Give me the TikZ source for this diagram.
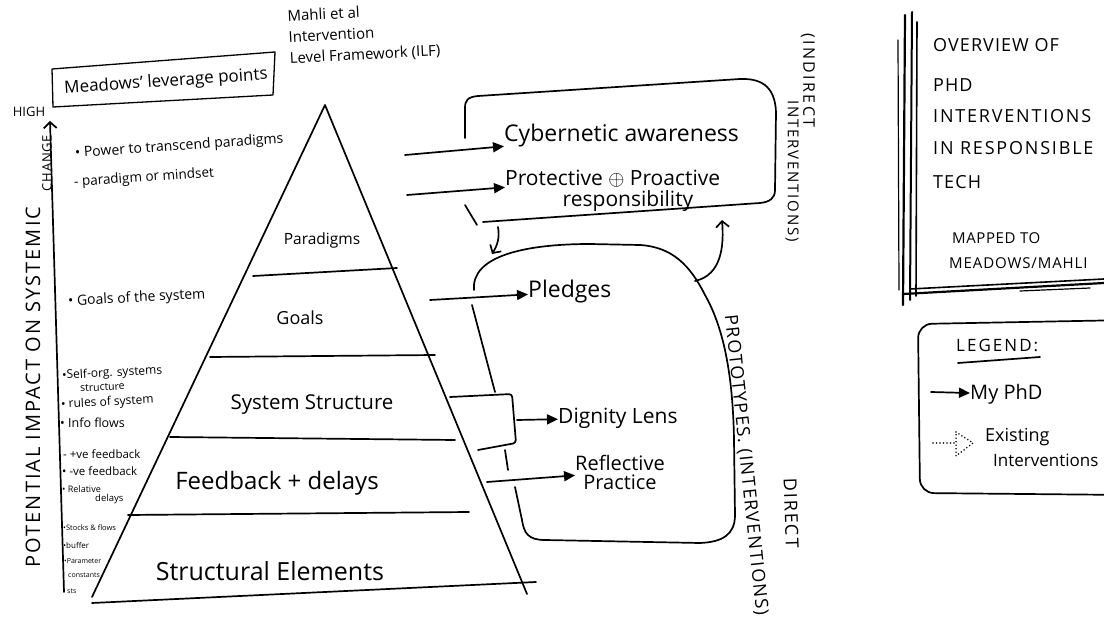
\documentclass[tikz,border=0pt]{standalone}
\usepackage{fontspec}
\setmainfont{Open Sans}
\usetikzlibrary{arrows.meta}
\newcommand{\wide}[2]{{\addfontfeatures{LetterSpace=#1}#2}}
\begin{document}
\begin{tikzpicture}[x=1pt,y=-1pt,
  ink/.style={line width=1.7pt, line cap=round, line join=round},
  fine ink/.style={line width=1.3pt, line cap=round, line join=round},
  hw/.style 2 args={font=\fontsize{#1pt}{#2pt}\selectfont, inner sep=0pt, align=left},
  mine/.style={ink, -{Triangle[length=11pt,width=10pt]}},
  barb/.style={ink, -{Straight Barb[length=6pt,width=13pt]}},
  dots/.style={line width=1.7pt, line cap=round, dash pattern=on 0pt off 3.5pt},
]
\useasboundingbox (0,0) rectangle (1104,623);
\fill[white] (0,0) rectangle (1104,623);

% ---------- title of the left framework ----------
\draw[fine ink] (52,69) -- (275,52) -- (273,95) -- (53,107) -- cycle;
\node[hw={17}{19}, rotate=4] (mlp) at (166,82) {Meadows' leverage points};
\node[hw={15}{21}, anchor=north west, rotate=3] (ilf) at (287,10)
  {Mahli et al\\Intervention\\Level Framework (ILF)};

% ---------- axis ----------
\coordinate (axbot) at (64,592);
\coordinate (axtop) at (50,121);
\draw[barb] (axbot) -- (axtop);
\node[hw={13}{14}] (high) at (29,112) {HIGH};
\node[hw={20}{22}, rotate=90] (axlab) at (33,387) {\wide{10}{POTENTIAL IMPACT ON SYSTEMIC}};
\node[hw={13}{14}, rotate=90] (axlab2) at (47,163) {\wide{6}{CHANGE}};

% ---------- leverage points ----------
\node[hw={14}{16}, anchor=west, rotate=4] (lp1) at (75,154) {• Power to transcend paradigms};
\node[hw={13.5}{16}, anchor=west, rotate=4] (lp2) at (74,183) {- paradigm or mindset};
\node[hw={14}{16}, anchor=west, rotate=3] (lp3) at (68,302) {• Goals of the system};
\node[hw={12}{13}, anchor=west, rotate=3] (lp4) at (62,376) {•Self-org. systems};
\node[hw={10.5}{12}, anchor=west, rotate=3] (lp4b) at (80,388.5) {structure};
\node[hw={12}{13}, anchor=west, rotate=3] (lp5) at (61,405) {• rules of system};
\node[hw={12.5}{13}, anchor=west] (lp6) at (60,423) {• Info flows};
\node[hw={11.5}{13}, anchor=west] (lp7) at (63,454) {- +ve feedback};
\node[hw={11.5}{13}, anchor=west] (lp8) at (62,471) {• -ve feedback};
\node[hw={9}{10}, anchor=west] (lp9) at (62,489) {• Relative};
\node[hw={9.5}{10}, anchor=west] (lp9b) at (95,499) {delays};
\node[hw={7.5}{8}, anchor=west] (lp10) at (63,528) {•Stocks \& flows};
\node[hw={8}{8}, anchor=west] (lp11) at (63,545) {•buffer};
\node[hw={7}{8}, anchor=west] (lp12) at (64,561) {•Parameter};
\node[hw={7}{8}, anchor=west] (lp12b) at (68,575) {constants};
\node[hw={7}{8}, anchor=west] (lp13) at (67,591) {sts};

% ---------- pyramid ----------
\coordinate (apex) at (325,105);
\coordinate (pbl) at (92,597);
\coordinate (pbr) at (527,594);
\draw[ink] (pbl) -- (apex) -- (pbr);
\draw[ink] (253,276) -- (397,268);
\draw[ink] (210,357) -- (435,355);
\draw[ink] (170,437) -- (455,440);
\draw[ink] (128,515) -- (469,512);
\draw[ink] (92,603) -- (536,582);
\node[hw={15.5}{17}] (par) at (322,240) {Paradigms};
\node[hw={18}{19}] (goa) at (300,318) {Goals};
\node[hw={20.5}{21}] (sys) at (312,405) {System Structure};
\node[hw={24}{25}] (fee) at (277,483) {Feedback + delays};
\node[hw={25}{26}] (str) at (270,571) {Structural Elements};

% ---------- indirect interventions ----------
\draw[ink] (465,138) -- (465,108) .. controls (465,100) and (468,97) .. (478,96)
  -- (740,79) .. controls (765,78) and (775,90) .. (776,112)
  -- (775,190) .. controls (775,198) and (770,202) .. (760,203) -- (483,222);
\draw[ink] (465,205) -- (477,225);
\node[hw={23}{24}, anchor=west] (cyb) at (504,136) {Cybernetic awareness};
\node[hw={21}{22}, anchor=west] (pro) at (505,179) {Protective $\oplus$ Proactive};
\node[hw={21}{22}] (res) at (628,201) {responsibility};
\coordinate (a1) at (405,155);
\coordinate (a2) at (407,195);
\draw[mine] (a1) -- (cyb);
\draw[mine] (a2) -- (pro);

% ---------- prototypes (direct interventions) ----------
\draw[ink] (474,290) .. controls (471,256) and (525,244) .. (590,244) -- (640,245)
  .. controls (672,247) and (690,265) .. (705,295)
  .. controls (725,330) and (733,380) .. (734,440) -- (735,515)
  .. controls (735,535) and (722,542) .. (700,543) -- (545,540)
  .. controls (528,540) and (524,533) .. (522,520) -- (515,487);
\draw[ink] (472,305) -- (495,392);
\draw[ink] (505,450) -- (508,470);

% links between the two groups
\coordinate (d1) at (498,227);
\coordinate (d2) at (492,254);
\draw[barb] (d1) .. controls (500,238) and (497,246) .. (d2);
\coordinate (u1) at (695,281);
\coordinate (u2) at (722,220);
\draw[barb] (u1) .. controls (722,275) and (724,245) .. (u2);

\node[hw={23}{24}, anchor=west] (ple) at (528,292) {Pledges};
\coordinate (a3) at (430,300);
\draw[mine] (a3) -- (ple);

\draw[ink, rounded corners=3pt] (450,397) -- (512,394) -- (516,443) -- (478,450);
\coordinate (a4) at (517,420);
\node[hw={21}{22}, anchor=west] (dig) at (558,418) {Dignity Lens};
\draw[mine] (a4) -- (dig);

\node[hw={20}{19}, align=center] (ref) at (620,472) {Reflective\\Practice};
\coordinate (a5) at (487,482);
\draw[mine] (a5) -- (ref);

% ---------- side labels ----------
\node[hw={16}{16}, rotate=-90, anchor=west] (ind) at (808,33) {\wide{15}{(INDIRECT}};
\node[hw={15}{16}, rotate=-90, anchor=west] (indb) at (792,100) {\wide{12}{INTERVENTIONS)}};
\node[hw={18}{18}, rotate=-84, anchor=west] (proto) at (730,315) {\wide{8}{PROTOTYPES. (INTERVENTIONS)}};
\node[hw={18}{16}, rotate=-88, anchor=west] (dir) at (790,478) {\wide{10}{DIRECT}};

% ---------- overview panel ----------
\draw[ink, line width=2.2pt] (905,15) -- (903,305);
\draw[ink, line width=2pt] (912,12) -- (910,300);
\draw[ink, line width=1.6pt] (917,22) -- (916,296);
\draw[ink, line width=1.2pt] (898,40) -- (899,290);
\draw[ink, line width=2.2pt] (903,294) -- (1104,283);
\draw[ink, line width=1.6pt] (910,289) -- (1104,279);
\draw[ink, line width=1.2pt] (1020,291) -- (1090,288);
\node[hw={18}{18}, anchor=west] (ov1) at (933,45) {\wide{6}{OVERVIEW OF}};
\node[hw={18}{18}, anchor=west] (ov2) at (933,85) {\wide{6}{PHD}};
\node[hw={18}{18}, anchor=west] (ov3) at (933,116) {\wide{10}{INTERVENTIONS}};
\node[hw={18}{18}, anchor=west] (ov4) at (933,148) {\wide{10}{IN RESPONSIBLE}};
\node[hw={18}{18}, anchor=west] (ov5) at (933,182) {\wide{6}{TECH}};
\node[hw={15}{16}, anchor=west] (ov6) at (952,238) {\wide{4}{MAPPED TO}};
\node[hw={15}{16}, anchor=west] (ov7) at (949,263) {\wide{6}{MEADOWS/MAHLI}};

% ---------- legend ----------
\draw[ink, rounded corners=14pt] (1130,320) -- (918,324) -- (920,493) -- (1130,495);
\node[hw={17}{18}, anchor=west] (leg) at (956,345) {\wide{12}{LEGEND:}};
\draw[ink] (958,363) -- (1040,357);
\node[hw={20}{21}, anchor=west] (my) at (970,394) {My PhD};
\coordinate (l1) at (931,392);
\draw[mine] (l1) -- (my);
\coordinate (l2) at (933,443);
\coordinate (l3) at (955,443);
\draw[dots] (l2) -- (l3);
\draw[dots] (956,432) -- (973,443) -- (956,456) -- cycle;
\node[hw={18}{19}, anchor=west] (ex1) at (985,437) {Existing};
\node[hw={17}{18}, anchor=west] (ex2) at (993,460) {Interventions};
\end{tikzpicture}
\end{document}
